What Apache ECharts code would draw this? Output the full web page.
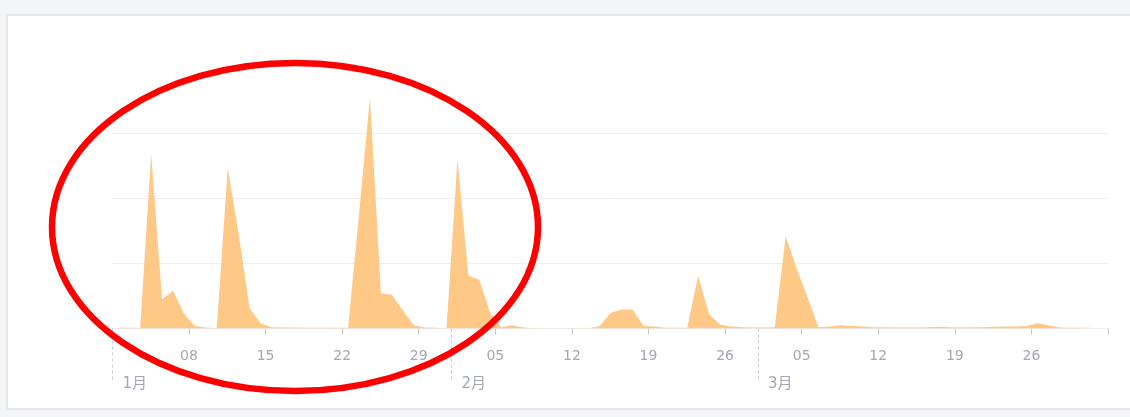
<!DOCTYPE html>
<html>
<head>
<meta charset="utf-8">
<title>daily chart</title>
<script src="https://cdn.jsdelivr.net/npm/echarts@6/dist/echarts.min.js"></script>
<style>
  html, body { margin: 0; padding: 0; background: #f4f5f7; }
  #panel {
    position: absolute; left: 6px; top: 14px; right: -10px; bottom: 7px;
    background: #fff; border: 2px solid #e4e6ea;
  }
  #main { position: absolute; left: 0; top: 0; width: 1130px; height: 417px; }
</style>
</head>
<body>
<div id="panel"></div>
<div id="main"></div>
<script>
// daily values (one gridline = 100)
var janValues = [1, 1, 1, 268, 45, 58, 23, 4, 1.5, 0.5, 247, 145, 31, 8, 2, 1.5,
  1.5, 1, 1, 1, 1, 1, 175, 355, 54, 52, 28, 5, 1.5, 1, 0.5]
var febValues = [260, 81, 75, 23, 2, 5, 1.5, 0.5, 0.5, 0.5, 0.5, 0.5, 0.5, 4, 24, 29,
  29, 4, 3, 1, 1, 1, 81, 22, 6, 3, 2, 1.5]
var marValues = [1.5, 2, 142, 92, 48, 2, 3, 5, 4, 3, 2, 2, 1.5, 1.5, 1.5, 2,
  2.5, 2, 1.5, 2, 2, 2.5, 3, 3, 4, 8, 5, 1.5, 1, 1, 1]

var year = 2019
var axisMin = '2019-01-01'
var axisMax = '2019-04-02'
var weekTicks = ['2019-01-08', '2019-01-15', '2019-01-22', '2019-01-29',
  '2019-02-05', '2019-02-12', '2019-02-19', '2019-02-26',
  '2019-03-05', '2019-03-12', '2019-03-19', '2019-03-26']
var monthTicks = ['2019-01-01', '2019-02-01', '2019-03-01']

// 'YYYY-MM-DD' -> local midnight timestamp
function ts (s) {
  var p = s.split('-')
  return new Date(+p[0], +p[1] - 1, +p[2]).getTime()
}

function buildSeries () {
  var data = []
  var months = [janValues, febValues, marValues]
  months.forEach(function (vals, m) {
    vals.forEach(function (v, i) {
      data.push([new Date(year, m, i + 1, 13).getTime(), v])
    })
  })
  return data
}

function pad (n) {
  return n < 10 ? '0' + n : '' + n
}

var labelFont = '"DejaVu Sans", "Noto Sans CJK SC", sans-serif'
var labelColor = '#a2a7b0'

var myChart = echarts.init(document.getElementById('main'))
myChart.setOption({
  animation: false,
  backgroundColor: 'transparent',
  grid: { left: 112.4, right: 22, top: 68, bottom: 88.5 },
  xAxis: [
    {
      type: 'value',
      position: 'bottom',
      min: ts(axisMin),
      max: ts(axisMax),
      axisLine: { show: true, lineStyle: { color: '#eceef1', width: 1 } },
      axisTick: {
        show: true,
        customValues: weekTicks.concat([axisMax]).map(ts),
        length: 6,
        lineStyle: { color: '#c5c9d0' }
      },
      axisLabel: {
        customValues: weekTicks.map(ts),
        margin: 21,
        color: labelColor,
        fontSize: 14,
        fontFamily: labelFont,
        formatter: function (value) {
          return pad(new Date(value).getDate())
        }
      },
      splitLine: { show: false }
    },
    {
      type: 'value',
      position: 'bottom',
      min: ts(axisMin),
      max: ts(axisMax),
      axisLine: { show: false },
      axisTick: {
        show: true,
        customValues: monthTicks.map(ts),
        length: 52,
        lineStyle: { color: '#c5c9d0', type: [3, 3] }
      },
      axisLabel: {
        customValues: monthTicks.map(ts),
        margin: 48,
        align: 'left',
        padding: [0, 0, 0, 10],
        color: labelColor,
        fontSize: 15,
        fontFamily: labelFont,
        formatter: function (value) {
          return (new Date(value).getMonth() + 1) + '月'
        }
      },
      splitLine: { show: false }
    }
  ],
  yAxis: {
    type: 'value',
    min: 0,
    max: 400,
    interval: 100,
    axisLine: { show: false },
    axisTick: { show: false },
    axisLabel: { show: false },
    splitLine: {
      show: true,
      showMinLine: false,
      showMaxLine: false,
      lineStyle: { color: '#ededef' }
    }
  },
  series: [
    {
      type: 'line',
      xAxisIndex: 0,
      data: buildSeries(),
      showSymbol: false,
      symbol: 'none',
      lineStyle: { width: 0 },
      areaStyle: { color: '#fec887', opacity: 1 }
    }
  ],
  graphic: [
    {
      // red hand-drawn style ring around the first weeks
      type: 'ellipse',
      z: 100,
      shape: { cx: 295, cy: 227, rx: 243, ry: 164 },
      style: { fill: 'none', stroke: '#ff0000', lineWidth: 6.5 }
    }
  ]
})
</script>
</body>
</html>
